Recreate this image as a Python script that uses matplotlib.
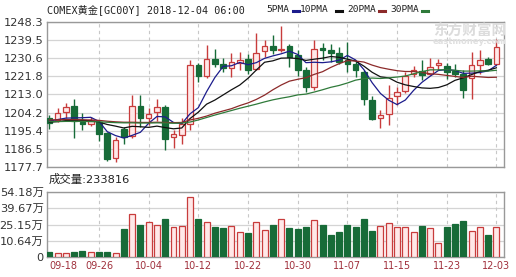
import matplotlib
matplotlib.use('Agg')
import matplotlib.pyplot as plt
from matplotlib.lines import Line2D
import numpy as np
import pandas as pd

# trading days shown (business days 2018-09-18 .. 2018-12-03)
dates = pd.bdate_range('2018-09-18', '2018-12-03')

opens = [1201.66, 1200.69, 1204.43, 1207.51, 1199.39, 1198.74, 1199.55, 1194.19, 1182.16, 1196.14,
         1192.89, 1207.35, 1201.50, 1204.43, 1206.86, 1192.24, 1193.38, 1198.41, 1227.50, 1221.81,
         1230.43, 1227.99, 1226.04, 1228.31, 1230.43, 1225.55, 1234.16, 1236.44, 1234.49, 1236.44,
         1232.38, 1225.06, 1216.61, 1235.46, 1234.49, 1233.35, 1229.94, 1227.99, 1223.93, 1210.44,
         1201.66, 1203.29, 1212.06, 1214.66, 1223.11, 1224.41, 1223.11, 1227.18, 1226.69, 1224.41,
         1222.79, 1221.16, 1227.50, 1230.43, 1227.99]
highs = [1202.80, 1206.54, 1208.81, 1210.93, 1203.94, 1201.99, 1200.69, 1194.70, 1192.24, 1197.11,
         1212.55, 1212.55, 1206.50, 1210.60, 1207.68, 1195.81, 1201.34, 1229.94, 1228.31, 1236.93,
         1235.30, 1230.75, 1233.35, 1233.68, 1232.86, 1243.10, 1239.36, 1241.80, 1246.19, 1237.41,
         1234.49, 1226.36, 1239.36, 1238.06, 1237.74, 1236.11, 1238.55, 1229.29, 1225.06, 1212.06,
         1205.56, 1217.43, 1216.61, 1223.93, 1226.69, 1229.61, 1230.91, 1230.43, 1228.31, 1227.99,
         1224.74, 1233.68, 1234.49, 1231.24, 1240.20]
lows = [1196.30, 1199.55, 1201.66, 1191.91, 1195.49, 1197.44, 1190.29, 1180.86, 1180.05, 1188.66,
        1191.91, 1197.11, 1197.93, 1200.04, 1185.74, 1187.04, 1188.99, 1195.49, 1219.05, 1221.16,
        1226.36, 1223.93, 1221.49, 1224.74, 1223.11, 1224.74, 1231.24, 1232.86, 1233.68, 1226.36,
        1221.81, 1214.18, 1214.99, 1229.94, 1228.80, 1227.99, 1223.93, 1221.49, 1207.68, 1200.36,
        1196.79, 1197.93, 1207.68, 1213.69, 1221.49, 1220.19, 1222.30, 1224.74, 1220.68, 1221.49,
        1211.41, 1210.60, 1223.11, 1227.18, 1227.18]
closes = [1199.06, 1203.94, 1206.86, 1200.04, 1198.41, 1200.36, 1193.86, 1181.68, 1190.61, 1192.24,
          1207.19, 1201.50, 1203.61, 1206.86, 1191.43, 1193.54, 1198.74, 1227.50, 1221.81, 1230.43,
          1227.99, 1225.88, 1228.80, 1229.94, 1224.74, 1233.19, 1236.44, 1234.49, 1235.30, 1231.24,
          1225.06, 1216.61, 1235.30, 1234.49, 1233.19, 1228.80, 1227.99, 1224.74, 1210.93, 1201.18,
          1202.80, 1211.41, 1214.18, 1221.81, 1224.74, 1222.30, 1226.36, 1228.31, 1223.93, 1222.79,
          1214.99, 1227.18, 1229.61, 1227.99, 1236.11]

# moving averages
ma5 = [1200.0, 1200.8, 1201.5, 1201.6, 1201.7, 1201.9, 1199.9, 1194.9, 1193.0, 1191.8,
       1193.1, 1194.6, 1199.0, 1202.3, 1202.1, 1199.4, 1198.8, 1203.6, 1206.6, 1214.4,
       1221.3, 1226.7, 1227.0, 1228.6, 1227.5, 1228.5, 1230.6, 1231.8, 1232.8, 1234.1,
       1232.5, 1228.5, 1228.7, 1228.5, 1228.9, 1229.7, 1232.0, 1229.8, 1225.1, 1218.7,
       1213.5, 1210.2, 1208.1, 1210.3, 1215.0, 1218.9, 1221.9, 1224.7, 1225.1, 1224.7,
       1223.3, 1223.4, 1223.7, 1224.5, 1227.2]
ma10 = [1199.5, 1199.8, 1200.3, 1200.5, 1200.4, 1200.2, 1199.6, 1198.4, 1197.6, 1196.7,
        1197.5, 1197.3, 1197.0, 1197.6, 1196.9, 1196.3, 1196.7, 1201.3, 1204.4, 1208.3,
        1210.3, 1212.8, 1215.3, 1217.6, 1220.9, 1224.9, 1228.7, 1229.4, 1230.7, 1230.8,
        1230.5, 1229.6, 1230.2, 1230.7, 1231.5, 1231.1, 1230.2, 1229.3, 1226.8, 1223.8,
        1221.6, 1221.1, 1219.0, 1217.7, 1216.9, 1216.2, 1216.0, 1216.4, 1217.7, 1219.9,
        1221.1, 1222.7, 1224.2, 1224.8, 1226.0]
ma20 = [1200.6, 1200.7, 1200.8, 1200.8, 1200.7, 1200.6, 1200.4, 1200.0, 1199.7, 1199.5,
        1199.5, 1199.4, 1199.4, 1199.5, 1199.4, 1199.3, 1199.4, 1200.6, 1201.4, 1202.5,
        1203.9, 1205.0, 1206.1, 1207.6, 1208.9, 1210.6, 1212.7, 1215.3, 1217.6, 1219.5,
        1220.4, 1221.2, 1222.8, 1224.1, 1226.2, 1228.0, 1229.5, 1229.3, 1228.8, 1227.3,
        1226.1, 1225.3, 1224.6, 1224.2, 1224.2, 1223.7, 1223.1, 1222.8, 1222.3, 1221.8,
        1221.3, 1221.9, 1221.6, 1221.3, 1221.4]
ma30 = [1199.8, 1199.8, 1199.9, 1199.9, 1199.9, 1199.8, 1199.7, 1199.5, 1199.3, 1199.2,
        1199.2, 1199.1, 1199.1, 1199.2, 1199.1, 1199.0, 1199.1, 1199.6, 1200.6, 1201.8,
        1203.0, 1204.1, 1205.2, 1206.3, 1207.3, 1208.3, 1209.4, 1210.4, 1211.2, 1211.9,
        1212.8, 1213.2, 1214.2, 1215.3, 1216.5, 1217.4, 1218.6, 1220.0, 1220.7, 1221.0,
        1220.8, 1221.1, 1221.5, 1222.0, 1223.1, 1224.1, 1225.0, 1225.0, 1225.1, 1224.8,
        1224.4, 1224.4, 1224.5, 1224.4, 1224.8]

# volume in 万
volume = [0.40, 0.10, 0.10, 0.40, 1.31, 1.01, 1.01, 0.40, 0.10, 21.25,
          34.54, 24.87, 27.59, 24.57, 30.31, 23.06, 23.97, 49.95, 30.31, 27.59,
          23.06, 22.16, 23.67, 18.53, 17.62, 27.59, 20.34, 24.87, 30.01, 22.16,
          21.25, 23.06, 29.41, 24.87, 15.81, 18.53, 24.87, 23.06, 30.31, 19.74,
          23.97, 26.69, 23.06, 23.06, 18.53, 23.97, 22.16, 8.56, 23.06, 25.78,
          28.50, 19.44, 23.06, 15.81, 23.06]

price_ticks = [1177.7, 1186.5, 1195.4, 1204.2, 1213.0, 1221.8, 1230.6, 1239.5, 1248.3]
vol_ticks = [-3.87, 10.64, 25.15, 39.67, 54.18]
vol_labels = ['0', '10.64万', '25.15万', '39.67万', '54.18万']
date_ticks = list(range(0, 55, 6))
date_labels = [d.strftime('%m-%d') for d in dates[date_ticks]]

UP_EDGE = '#c83c3c'
UP_FILL = '#ffe8e8'
DOWN = '#176b38'
GRID = '#d4d4d4'
CJK = ['DejaVu Sans', 'Noto Sans CJK SC']

W, H = 516, 277
fig = plt.figure(figsize=(W / 100, H / 100), dpi=100)
ax = fig.add_axes([47 / W, 1 - 167 / H, 457 / W, 145 / H])
axv = fig.add_axes([47 / W, 1 - 257 / H, 457 / W, 65 / H])

x = np.arange(len(closes))
o = np.array(opens); c = np.array(closes)
up = c >= o
bw = 0.68

# candles
for i in x:
    col = UP_EDGE if up[i] else DOWN
    ax.vlines(i, lows[i], highs[i], color=col, lw=1, zorder=2)
ax.bar(x[up], (c - o)[up], bottom=o[up], width=bw, color=UP_FILL,
       edgecolor=UP_EDGE, lw=0.9, zorder=4)
ax.bar(x[~up], (o - c)[~up], bottom=c[~up], width=bw, color=DOWN,
       edgecolor=DOWN, lw=0.9, zorder=4)

ax.plot(x, ma5, color='#1c1c8c', lw=0.9, zorder=5)
ax.plot(x, ma10, color='#111111', lw=0.9, zorder=5)
ax.plot(x, ma20, color='#8c2a2a', lw=0.9, zorder=5)
ax.plot(x, ma30, color='#2f7a3a', lw=0.9, zorder=5)

ax.set_xlim(-0.28, 54.92)
ax.set_ylim(price_ticks[0], price_ticks[-1])
ax.set_yticks(price_ticks)
ax.set_yticklabels(['%.1f' % t for t in price_ticks])
ax.set_xticks([])
ax.grid(axis='y', color=GRID, lw=0.9)
for t in date_ticks[1:]:
    ax.axvline(t, color='#c8c8c8', lw=0.8, ls=(0, (3, 3)), zorder=1)

# volume
vmin = vol_ticks[0]
v = np.array(volume)
axv.bar(x[up], (v - vmin)[up], bottom=vmin, width=0.72, color=UP_FILL,
        edgecolor=UP_EDGE, lw=0.9, zorder=3)
axv.bar(x[~up], (v - vmin)[~up], bottom=vmin, width=0.72, color=DOWN,
        edgecolor=DOWN, lw=0.9, zorder=3)
axv.set_xlim(-0.28, 54.92)
axv.set_ylim(vmin, vol_ticks[-1])
axv.set_yticks(vol_ticks)
axv.set_yticklabels(vol_labels, family=CJK)
axv.grid(axis='y', color=GRID, lw=0.9)
for t in date_ticks[1:]:
    axv.axvline(t, color='#c8c8c8', lw=0.8, ls=(0, (3, 3)), zorder=1)
axv.set_xticks(date_ticks)
axv.set_xticklabels(date_labels)
labs = axv.get_xticklabels()
labs[0].set_ha('left')

for a in (ax, axv):
    a.set_axisbelow(True)
    for s in a.spines.values():
        s.set_color('#999999')
        s.set_linewidth(1)
    a.tick_params(length=0, pad=2.5)
ax.tick_params(axis='y', labelsize=8.2, labelcolor='#333333')
axv.tick_params(axis='y', labelsize=8.2, labelcolor='#333333')
axv.tick_params(axis='x', labelsize=7, labelcolor='#a0303c', pad=3)

# header texts
fig.text(47 / W, 1 - 10 / H, 'COMEX黄金[GC00Y] 2018-12-04 06:00', ha='left', va='center',
         fontsize=7.3, color='#222222', family=['DejaVu Sans Mono', 'Noto Sans CJK SC'])
leg = [('5PMA', 266.5, 293, '#1c1c8c'), ('10PMA', 300, 336, '#111111'),
       ('20PMA', 347, 379, '#8c2a2a'), ('30PMA', 390, 422, '#2f7a3a')]
for name, tx, dx, col in leg:
    fig.text(tx / W, 1 - 10 / H, name, ha='left', va='center', fontsize=6.8,
             color='#222222', family='DejaVu Sans Mono')
    fig.add_artist(Line2D([dx / W, (dx + 5.5) / W], [1 - 10.7 / H] * 2, color=col, lw=2.2))
fig.text(49 / W, 1 - 179 / H, '成交量:233816', ha='left', va='center', fontsize=8.2,
         color='#222222', family=CJK)

# watermark
fig.text(433 / W, 1 - 31 / H, '东方财富网', ha='left', va='center', fontsize=10.5,
         color='#dcdcdc', weight='bold', family=['Noto Sans CJK SC'], zorder=0)
fig.text(433 / W, 1 - 42 / H, 'eastmoney.com', ha='left', va='center', fontsize=6,
         color='#e0e0e0', weight='bold', zorder=0)

fig.savefig('out.png', dpi=100)
